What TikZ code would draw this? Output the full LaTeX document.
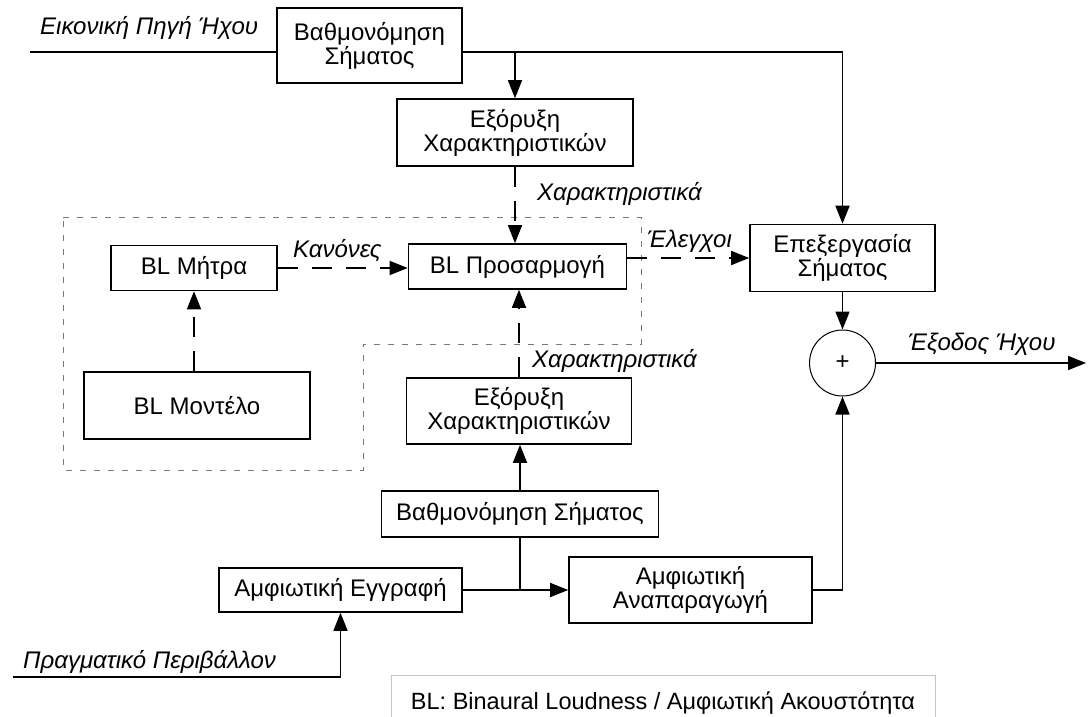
\documentclass[tikz,border=0pt]{standalone}
\usepackage{fontspec}
\setmainfont{Liberation Sans}
\usepackage{tikz}
\usetikzlibrary{arrows.meta,positioning,calc}
\tikzset{>={Triangle[length=18pt,width=14pt]}}
\definecolor{regiongray}{RGB}{120,120,120}
\definecolor{legendgray}{RGB}{195,195,195}
\tikzset{
          block/.style={
            rectangle,draw=black,line width=1.6pt,
            align=center,inner sep=0pt,
            font=\fontsize{24}{24}\selectfont
          },
          sigtext/.style={font=\fontsize{24}{24}\selectfont\itshape,inner sep=0pt},
          flow/.style={line width=1.6pt},
          ctrl/.style={line width=1.6pt,dash pattern=on 20pt off 14pt},
          region/.style={draw=regiongray,line width=0.9pt,dash pattern=on 6pt off 8pt}
        }
\newcommand\SigText[3]{%
          \node[sigtext,anchor=base west] (#1) at (#2) {#3};
        }
\begin{document}
\begin{tikzpicture}[x=1pt,y=-1pt]
            \useasboundingbox (0,0) rectangle (1089,717);

            % dotted region round the BL blocks
            \draw[region] (63,217) -- (641,217) -- (641,344) -- (363,344)
                          -- (363,470) -- (63,470) -- cycle;

            \node[block,minimum width=185pt,minimum height=75pt] (grade1) at (369.5,45.5) {Βαθμονόμηση\\Σήματος};
            \node[block,minimum width=236pt,minimum height=67pt] (feat1) at (515,132.5) {Εξόρυξη\\Χαρακτηριστικών};
            \node[block,minimum width=166pt,minimum height=45pt] (blmatrix) at (194,268) {BL Μήτρα};
            \node[block,minimum width=226pt,minimum height=67pt] (blmodel) at (197,405.5) {BL Μοντέλο};
            \node[block,minimum width=218pt,minimum height=45pt] (bladapt) at (517.5,266.5) {BL Προσαρμογή};
            \node[block,minimum width=185pt,minimum height=67pt] (proc) at (842.5,258) {Επεξεργασία\\Σήματος};
            \node[circle,draw=black,line width=1pt,minimum size=66pt,inner sep=0pt,
                  font=\fontsize{24}{24}\selectfont] (sum) at (842.5,363) {+};
            \node[block,minimum width=225pt,minimum height=66pt] (feat2) at (519,411) {Εξόρυξη\\Χαρακτηριστικών};
            \node[block,minimum width=277pt,minimum height=46pt] (grade2) at (520,514) {Βαθμονόμηση Σήματος};
            \node[block,minimum width=243pt,minimum height=44pt] (rec) at (340.5,590) {Αμφιωτική Εγγραφή};
            \node[block,minimum width=243pt,minimum height=66pt] (repro) at (690.5,590) {Αμφιωτική\\Αναπαραγωγή};
            \node[rectangle,draw=legendgray,line width=1pt,minimum width=544pt,minimum height=56pt,
                  anchor=north,font=\fontsize{23.5}{24}\selectfont] (legend) at (663,675)
                  {BL: Binaural Loudness / Αμφιωτική Ακουστότητα};

            \coordinate (srcin) at (30,52);
            \coordinate (topturn) at (842.5,52);
            \coordinate (envin) at (13,677);
            \coordinate (out) at (1086,363);

            % virtual source path
            \draw[flow] (srcin) -- (srcin -| grade1.west);
            \draw[flow,->] (grade1.east |- srcin) -- (topturn) -- (proc.north);
            \draw[flow,->] (feat1.north |- srcin) -- (feat1.north);
            \draw[ctrl,->] (feat1.south) -- (feat1.south |- bladapt.north);
            \draw[ctrl,->] (blmodel.north -| blmatrix.south) -- (blmatrix.south);
            \draw[ctrl,->] (blmatrix.east) -- (blmatrix.east -| bladapt.west);
            \draw[ctrl,->] (proc.west -| bladapt.east) -- (proc.west);
            \draw[flow,->] (proc.south) -- (sum.north);
            \draw[flow,->] (sum.east) -- (out);

            % real environment path
            \draw[flow,->] (envin) -- (envin -| rec.south) -- (rec.south);
            \draw[flow,->] (rec.east) -- (repro.west);
            \draw[flow] (rec.east -| grade2.south) -- (grade2.south);
            \draw[flow,->] (grade2.north) -- (grade2.north |- feat2.south);
            \draw[ctrl,->] (feat2.north) -- (feat2.north |- bladapt.south);
            \draw[flow,->] (repro.east) -- (repro.east -| sum.south) -- (sum.south);

            \SigText{srclbl}{40,35}{Εικονική Πηγή Ήχου}
            \SigText{feat1lbl}{537,200}{Χαρακτηριστικά}
            \SigText{ruleslbl}{293,257}{Κανόνες}
            \SigText{ctrllbl}{647,247}{Έλεγχοι}
            \SigText{outlbl}{908,350}{Έξοδος Ήχου}
            \SigText{feat2lbl}{532,367}{Χαρακτηριστικά}
            \SigText{envlbl}{23,668}{Πραγματικό Περιβάλλον}
          \end{tikzpicture}
\end{document}
